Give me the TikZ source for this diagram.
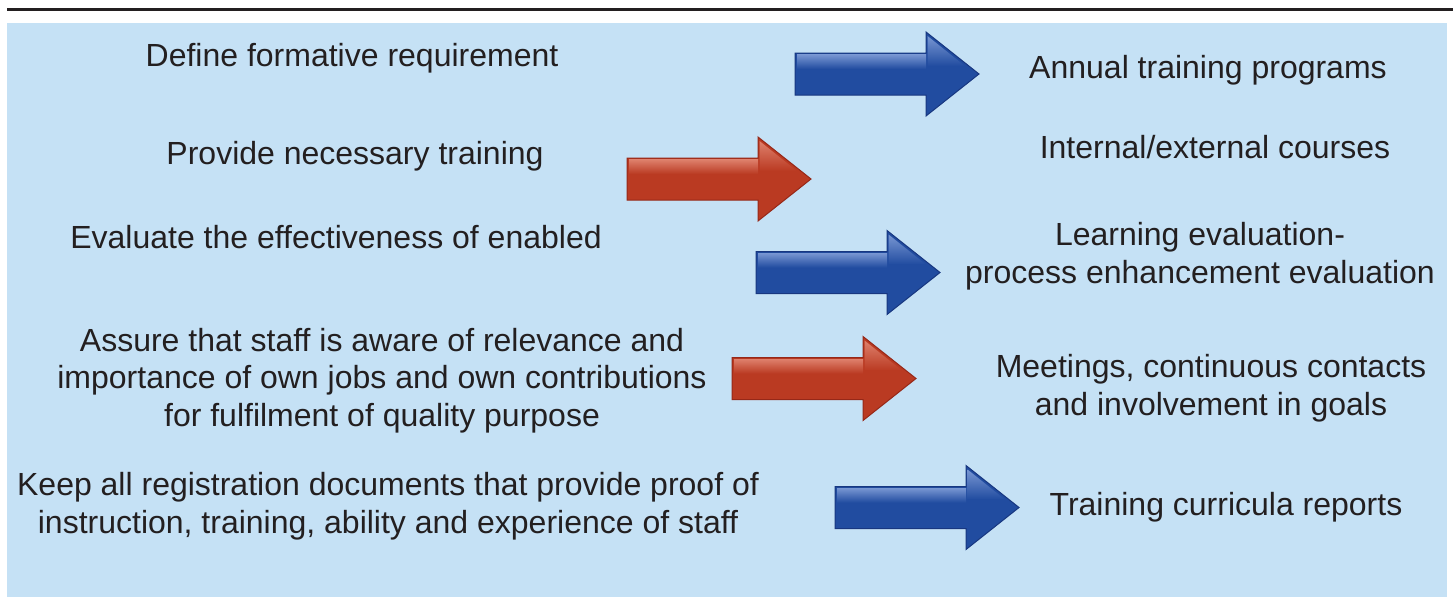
\documentclass[tikz,border=0pt]{standalone}
\usepackage{fontspec}
\setmainfont{Liberation Sans}
\definecolor{bgblue}{RGB}{197,225,245}
\definecolor{ink}{RGB}{35,31,32}
\definecolor{arblue}{RGB}{33,76,160}
\definecolor{arbluelt}{RGB}{120,150,210}
\definecolor{arbluedk}{RGB}{24,55,128}
\definecolor{arred}{RGB}{186,58,34}
\definecolor{arredlt}{RGB}{222,128,108}
\definecolor{arreddk}{RGB}{150,40,24}
\tikzset{
  lbl/.style={text=ink, font=\fontsize{32}{37.5}\selectfont, inner sep=0pt, anchor=base, align=center},
}
% #1 colour prefix, #2 left x of shaft, #3 centre y
\newcommand{\glossarrow}[3]{%
  \path[fill=#1, draw=#1dk, line width=1pt]
    (#2,#3-21) -- (#2+131,#3-21) -- (#2+131,#3-42) -- (#2+184,#3)
    -- (#2+131,#3+42) -- (#2+131,#3+21) -- (#2,#3+21) -- cycle;
  \shade[top color=#1lt, bottom color=#1]
    (#2+2,#3-19.5) rectangle (#2+131,#3-5);
  \shade[top color=#1lt, bottom color=#1]
    (#2+132.5,#3-38) -- (#2+170,#3-8) -- (#2+132.5,#3-8) -- cycle;
}
\begin{document}
\begin{tikzpicture}[x=1pt,y=-1pt]
\useasboundingbox (0,0) rectangle (1453,597);
\draw[ink, line width=3pt] (7,9.5) -- (1453,9.5);
\fill[bgblue] (7,23) rectangle (1447,597);

\glossarrow{arblue}{795}{74}
\glossarrow{arred}{627}{179}
\glossarrow{arblue}{756}{272.5}
\glossarrow{arred}{732}{378.5}
\glossarrow{arblue}{835}{507.5}

% multi-line nodes: base anchor is the baseline of the last line
\node[lbl] (l1) at (352,66) {Define formative requirement};
\node[lbl] (l2) at (355,164) {Provide necessary training};
\node[lbl] (l3) at (336,248) {Evaluate the effectiveness of enabled};
\node[lbl] (l4) at (382,426) {Assure that staff is aware of relevance and\\importance of own jobs and own contributions\\for fulfilment of quality purpose};
\node[lbl] (l5) at (388,533) {Keep all registration documents that provide proof of\\instruction, training, ability and experience of staff};

\node[lbl] (r1) at (1208,78) {Annual training programs};
\node[lbl] (r2) at (1215,158) {Internal/external courses};
\node[lbl] (r3) at (1200,283) {Learning evaluation-\\process enhancement evaluation};
\node[lbl] (r4) at (1211,415) {Meetings, continuous contacts\\and involvement in goals};
\node[lbl] (r5) at (1226,515) {Training curricula reports};
\end{tikzpicture}
\end{document}
